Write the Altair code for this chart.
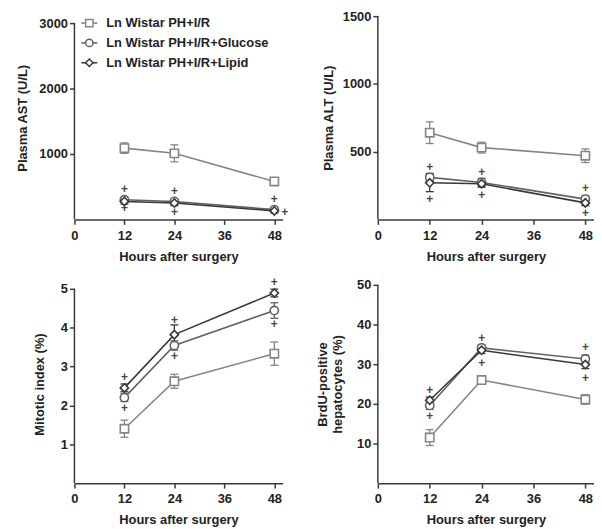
import altair as alt
import pandas as pd

hours = [12, 24, 48]
series = ["Ln Wistar PH+I/R", "Ln Wistar PH+I/R+Glucose", "Ln Wistar PH+I/R+Lipid"]
colors = ["#858585", "#626262", "#383838"]
shapes = ["square", "circle", "diamond"]
x_ticks = [0, 12, 24, 36, 48]

# Plasma AST (U/L)
ast_ph = [1090, 1010, 580]
ast_ph_err = [80, 130, 50]
ast_glu = [300, 275, 150]
ast_glu_err = [40, 40, 30]
ast_lip = [275, 250, 130]
ast_lip_err = [40, 40, 30]
ast_plus_hours = [12, 12, 24, 24, 48, 50.5]
ast_plus_vals = [470, 167, 439, 110, 314, 106]

# Plasma ALT (U/L)
alt_ph = [640, 530, 470]
alt_ph_err = [80, 40, 50]
alt_glu = [310, 273, 150]
alt_glu_err = [30, 30, 25]
alt_lip = [270, 263, 122]
alt_lip_err = [65, 25, 20]
alt_plus_hours = [12, 12, 24, 24, 48, 48]
alt_plus_vals = [383, 150, 346, 183, 232, 49]

# Mitotic index (%)
mi_ph = [1.40, 2.62, 3.33]
mi_ph_err = [0.22, 0.18, 0.30]
mi_glu = [2.20, 3.54, 4.44]
mi_glu_err = [0.10, 0.12, 0.20]
mi_lip = [2.45, 3.82, 4.89]
mi_lip_err = [0.10, 0.25, 0.10]
mi_plus_hours = [12, 12, 24, 24, 48, 48]
mi_plus_vals = [2.73, 1.92, 4.20, 3.26, 5.17, 4.08]

# BrdU-positive hepatocytes (%)
br_ph = [11.5, 26.0, 21.1]
br_ph_err = [2.0, 0.8, 1.2]
br_glu = [19.6, 34.1, 31.3]
br_glu_err = [1.0, 0.8, 1.0]
br_lip = [20.9, 33.5, 29.9]
br_lip_err = [0.8, 0.8, 1.0]
br_plus_hours = [12, 12, 24, 24, 48, 48]
br_plus_vals = [23.6, 16.9, 36.6, 30.3, 34.2, 26.6]

FONT = "Liberation Sans"
AXIS_COLOR = "#3a3a3a"
LEGEND_ROWS_Y = [7, 27, 47]


def panel(vals, errs, plus_h, plus_v, ytitle, ydom, ytop, yvals, w, h, tpad, legend=False):
    rows = []
    for s, v, e in zip(series, vals, errs):
        for hr, vv, ee in zip(hours, v, e):
            rows.append(dict(hour=hr, series=s, value=vv, lower=vv - ee, upper=vv + ee))
    df = pd.DataFrame(rows)
    pdf = pd.DataFrame({"hour": plus_h, "value": plus_v, "t": ["+"] * len(plus_h)})

    xs = alt.Scale(domain=[0, 50], nice=False, zero=False)
    ys = alt.Scale(domain=ydom, nice=False, zero=False)
    xaxis = alt.Axis(values=x_ticks, labelPadding=5, titlePadding=8, labelFlush=False)
    yaxis = alt.Axis(values=yvals, domain=False, titlePadding=tpad, labelPadding=2, format="d")
    color = alt.Color("series:N", scale=alt.Scale(domain=series, range=colors), legend=None)
    shape = alt.Shape("series:N", scale=alt.Scale(domain=series, range=shapes), legend=None)

    def X(f):
        return alt.X(f, scale=xs, axis=xaxis, title="Hours after surgery")

    def Y(f):
        return alt.Y(f, scale=ys, axis=yaxis, title=ytitle)

    base = alt.Chart(df)
    lines = base.mark_line(strokeWidth=1.6).encode(x=X("hour:Q"), y=Y("value:Q"), color=color)
    bars = base.mark_rule(strokeWidth=1.3).encode(
        x=X("hour:Q"), y=Y("lower:Q"), y2="upper:Q", color=color)
    caps_lo = base.mark_tick(orient="horizontal", size=8, thickness=1.3, opacity=1).encode(
        x=X("hour:Q"), y=Y("lower:Q"), color=color)
    caps_hi = base.mark_tick(orient="horizontal", size=8, thickness=1.3, opacity=1).encode(
        x=X("hour:Q"), y=Y("upper:Q"), color=color)
    pts = base.mark_point(fill="white", filled=False, size=70, strokeWidth=1.6, opacity=1).encode(
        x=X("hour:Q"), y=Y("value:Q"), color=color, shape=shape)
    plus = alt.Chart(pdf).mark_text(
        font=FONT, fontWeight="bold", fontSize=12, fill="#444", baseline="middle", align="center"
    ).encode(x=X("hour:Q"), y=Y("value:Q"), text="t:N")
    yline = alt.Chart(pd.DataFrame({"hour": [0], "lo": [ydom[0]], "hi": [ytop]})).mark_rule(
        color=AXIS_COLOR, strokeWidth=1.5).encode(x=X("hour:Q"), y=Y("lo:Q"), y2="hi:Q")

    layers = [yline, lines, bars, caps_lo, caps_hi, pts, plus]
    if legend:
        for s, c, shp, ry in zip(series, colors, shapes, LEGEND_ROWS_Y):
            lb = alt.Chart(pd.DataFrame({"series": [s]}))
            layers.append(lb.mark_rule(strokeWidth=1.6, color=c).encode(
                x=alt.value(7), x2=alt.value(23), y=alt.value(ry)))
            layers.append(lb.mark_point(fill="white", filled=False, size=55, strokeWidth=1.5,
                                        opacity=1, color=c, shape=shp).encode(
                x=alt.value(15), y=alt.value(ry)))
            layers.append(lb.mark_text(font=FONT, fontWeight="bold", fontSize=13, fill="#222",
                                       align="left", baseline="middle").encode(
                x=alt.value(32), y=alt.value(ry), text="series:N"))
    return alt.layer(*layers).properties(width=w, height=h)


p1 = panel([ast_ph, ast_glu, ast_lip], [ast_ph_err, ast_glu_err, ast_lip_err],
           ast_plus_hours, ast_plus_vals, "Plasma AST (U/L)", [0, 3106], 3000,
           [1000, 2000, 3000], 210, 205, 9, legend=True)
p2 = panel([alt_ph, alt_glu, alt_lip], [alt_ph_err, alt_glu_err, alt_lip_err],
           alt_plus_hours, alt_plus_vals, "Plasma ALT (U/L)", [0, 1500], 1500,
           [500, 1000, 1500], 218, 205, 7)
p3 = panel([mi_ph, mi_glu, mi_lip], [mi_ph_err, mi_glu_err, mi_lip_err],
           mi_plus_hours, mi_plus_vals, "Mitotic index (%)", [0, 5.1], 5,
           [1, 2, 3, 4, 5], 210, 200, 14)
p4 = panel([br_ph, br_glu, br_lip], [br_ph_err, br_glu_err, br_lip_err],
           br_plus_hours, br_plus_vals, ["BrdU-positive", "hepatocytes (%)"], [0, 50], 50,
           [10, 20, 30, 40, 50], 218, 200, 12)

chart = alt.vconcat(
    alt.hconcat(p1, p2, spacing=34),
    alt.hconcat(p3, p4, spacing=34),
    spacing=13,
).properties(
    padding={"left": 9, "top": 0, "right": 0, "bottom": 0}
).configure_view(stroke=None).configure_axis(
    labelFont=FONT, titleFont=FONT, labelFontWeight="bold", titleFontWeight="bold",
    labelFontSize=13, titleFontSize=13, labelColor="#222", titleColor="#222",
    domainColor=AXIS_COLOR, domainWidth=1.5, tickColor=AXIS_COLOR, tickWidth=1.5,
    tickSize=5, grid=False,
)

chart.save("out.html", embed_options={"renderer": "svg", "actions": False})
